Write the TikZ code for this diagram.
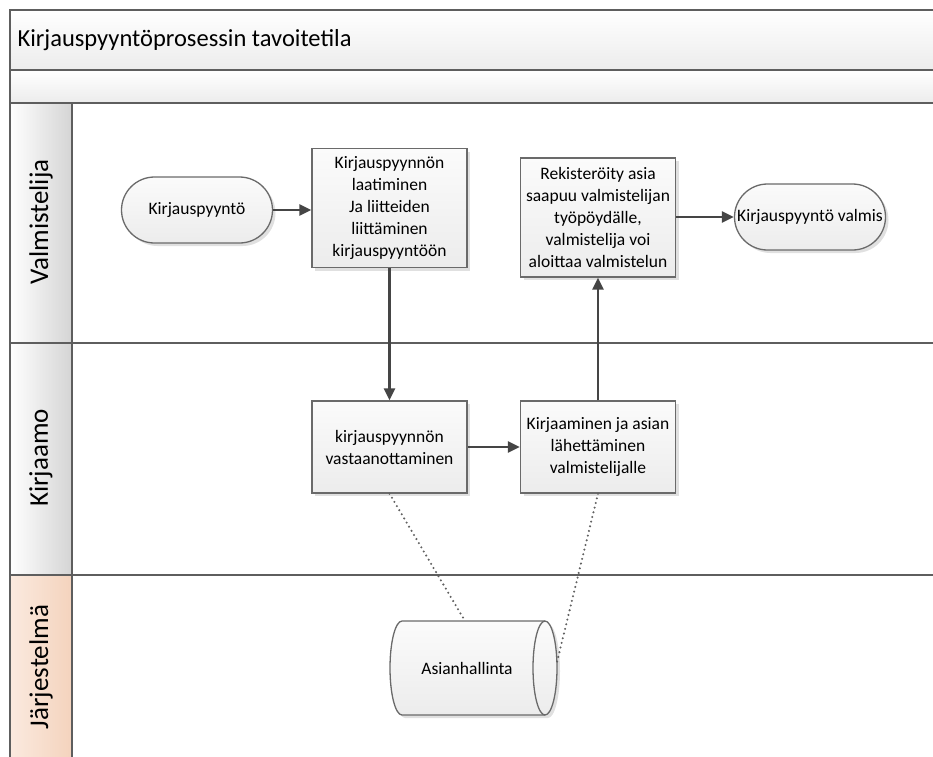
\documentclass[tikz,border=0pt]{standalone}
\usepackage{fontspec}
\setmainfont{Carlito}
\usetikzlibrary{shapes.misc,arrows.meta,shadows}
\definecolor{frameline}{HTML}{5E5E5E}
\definecolor{shapeline}{HTML}{6A6A6A}
\definecolor{flowline}{HTML}{454545}
\definecolor{boxtop}{HTML}{FBFBFB}
\definecolor{boxbot}{HTML}{ECECEC}
\definecolor{peachL}{HTML}{FBEADF}
\definecolor{peachR}{HTML}{F4D3BD}
\tikzset{
  band/.style={top color=white, bottom color=boxbot},
  grayhead/.style={left color=white, right color=boxbot!90!black},
  peachhead/.style={left color=peachL, right color=peachR},
  procbox/.style={rectangle, draw=shapeline, line width=1.3pt,
    top color=boxtop, bottom color=boxbot,
    minimum width=155, minimum height=119, inner sep=2pt,
    align=center, font=\fontsize{17.5}{22}\selectfont,
    drop shadow={shadow xshift=3pt, shadow yshift=-3pt, fill=black, opacity=0.12}},
  termbox/.style={rounded rectangle, draw=shapeline, line width=1.3pt,
    top color=boxtop, bottom color=boxbot,
    minimum width=155, minimum height=66, inner sep=2pt,
    font=\fontsize{17.5}{22}\selectfont,
    drop shadow={shadow xshift=3pt, shadow yshift=-3pt, fill=black, opacity=0.12}},
  flow/.style={draw=flowline, line width=2.4pt, -{Triangle[length=12,width=11]}},
  dotlink/.style={draw=flowline!85, line width=2.3pt, line cap=round,
    dash pattern=on 0pt off 4.8pt},
  lanelabel/.style={rotate=90, font=\fontsize{27}{30}\selectfont},
}
\begin{document}
\begin{tikzpicture}[x=1pt, y=-1pt]
\useasboundingbox (0,0) rectangle (933,756);

% ---- pool frame, title bands and lane headers ----
\begin{scope}
  \clip (0,0) rectangle (933,756);
  \shade[band] (10,10) rectangle (945,70);
  \shade[band] (10,70) rectangle (945,103);
  \shade[grayhead] (10,103) rectangle (72,343);
  \shade[grayhead] (10,343) rectangle (72,575);
  \shade[peachhead] (10,575) rectangle (72,770);
  \draw[frameline, line width=2pt] (945,10) -- (10,10) -- (10,770);
  \draw[frameline, line width=2pt] (10,70) -- (945,70);
  \draw[frameline, line width=2pt] (10,103) -- (945,103);
  \draw[frameline, line width=2pt] (72,103) -- (72,770);
  \draw[frameline, line width=2pt] (10,343) -- (945,343);
  \draw[frameline, line width=2pt] (10,575) -- (945,575);
\end{scope}

\node[anchor=west, font=\fontsize{24.5}{28}\selectfont] (title) at (14,40) {Kirjauspyyntöprosessin tavoitetila};
\node[lanelabel] (laneV) at (41,222) {Valmistelija};
\node[lanelabel] (laneK) at (41,458) {Kirjaamo};
\node[lanelabel] (laneJ) at (41,667) {Järjestelmä};

% ---- process steps ----
\node[termbox] (start) at (197,210) {Kirjauspyyntö};
\node[procbox] (draft) at (389.5,208) {Kirjauspyynnön\\laatiminen\\Ja liitteiden\\liittäminen\\kirjauspyyntöön};
\node[procbox, minimum height=92] (receive) at (389.5,447) {kirjauspyynnön\\vastaanottaminen};
\node[procbox, minimum height=92] (register) at (598,447) {Kirjaaminen ja asian\\lähettäminen\\valmistelijalle};
\node[procbox] (desk) at (598,217.5) {Rekisteröity asia\\saapuu valmistelijan\\työpöydälle,\\valmistelija voi\\aloittaa valmistelun};
\node[termbox] (done) at (810,217) {Kirjauspyyntö valmis};

% ---- data store (horizontal cylinder) ----
\fill[black, opacity=0.12]
  (405,624) -- (548,624) arc[start angle=-90, end angle=90, x radius=12, y radius=47]
  -- (405,718) arc[start angle=90, end angle=270, x radius=12, y radius=47] -- cycle;
\shade[top color=boxtop, bottom color=boxbot, draw=shapeline, line width=1.3pt]
  (402,621) -- (545,621) arc[start angle=-90, end angle=90, x radius=12, y radius=47]
  -- (402,715) arc[start angle=90, end angle=270, x radius=12, y radius=47] -- cycle;
\draw[shapeline, line width=1.3pt]
  (545,621) arc[start angle=270, end angle=90, x radius=12, y radius=47];
\node[font=\fontsize{17.5}{22}\selectfont] (store) at (467,668) {Asianhallinta};
\coordinate (storetop) at (465,621);
\coordinate (storeside) at (557,662);

% ---- sequence flows ----
\draw[flow] (start.east) -- (start.east -| draft.west);
\draw[flow] (draft.south) -- (receive.north);
\draw[flow] (receive.east) -- (register.west);
\draw[flow] (register.north) -- (desk.south);
\draw[flow] (desk.east |- done.west) -- (done.west);

% ---- associations to the data store ----
\draw[dotlink] (receive.south) -- (storetop);
\draw[dotlink] (register.south) -- (storeside);
\end{tikzpicture}
\end{document}
